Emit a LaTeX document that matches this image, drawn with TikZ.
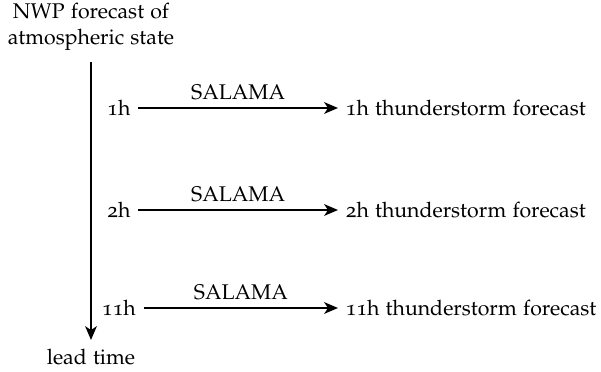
\documentclass[tikz,border=0pt]{standalone}
\usepackage[T1]{fontenc}
\usepackage[osf]{mathpazo}
\usetikzlibrary{arrows.meta}
\begin{document}
\begin{tikzpicture}[x=0.47pt,y=-0.47pt,
  lbl/.style={inner sep=2pt, font=\normalsize},
  side/.style={lbl, inner sep=3.5pt},
  conn/.style={line width=0.8pt, -{Stealth[length=6.5pt,width=5.5pt,inset=1.8pt]}}]
\useasboundingbox (0,0) rectangle (601,372);
\node[lbl, align=center] (nwp) at (91,27) {NWP forecast of\\atmospheric state};
\node[lbl] (lead) at (91,357) {lead time};
\coordinate (vtop) at (91,62);
\coordinate (vend) at (91,340);
\draw[conn] (vtop) -- (vend);
\foreach \y/\t in {108/1h, 210/2h, 308/11h}{
  \node[side] (l\t) at (119,\y) {\t};
  \node[side, anchor=west] (r\t) at (338,\y) {\t\ thunderstorm forecast};
  \draw[conn] (l\t) -- node[lbl, above=1.5pt] {SALAMA} (r\t);
}
\end{tikzpicture}
\end{document}
